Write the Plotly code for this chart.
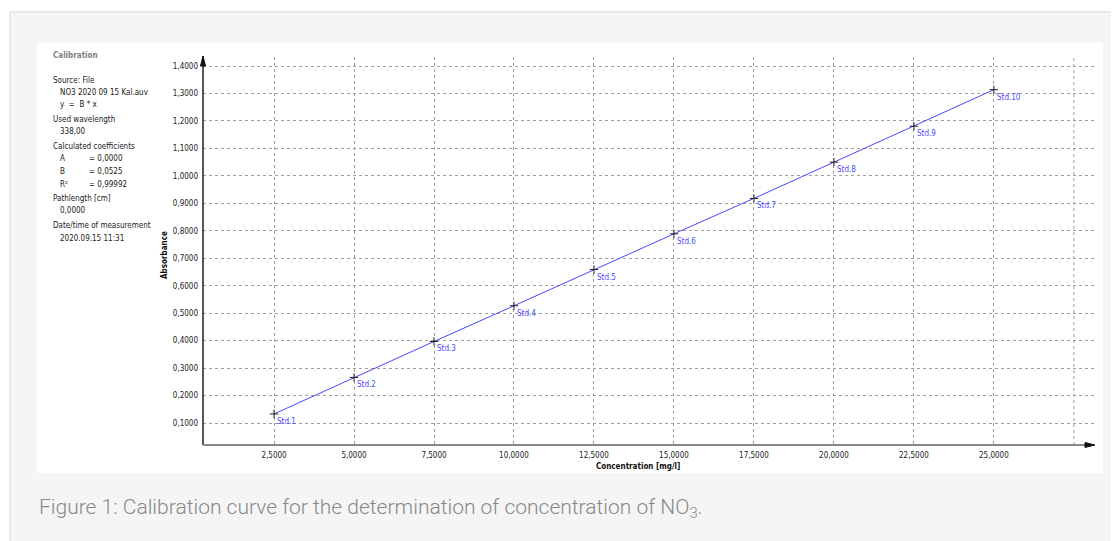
import plotly.graph_objects as go

conc = [2.5, 5.0, 7.5, 10.0, 12.5, 15.0, 17.5, 20.0, 22.5, 25.0]
absorb = [0.133, 0.266, 0.397, 0.527, 0.659, 0.789, 0.918, 1.050, 1.181, 1.314]
labels = ["Std.1", "Std.2", "Std.3", "Std.4", "Std.5", "Std.6", "Std.7", "Std.8", "Std.9", "Std.10"]
x_ticks = [2.5, 5.0, 7.5, 10.0, 12.5, 15.0, 17.5, 20.0, 22.5, 25.0]
x_ticktext = ["2,5000", "5,0000", "7,5000", "10,0000", "12,5000", "15,0000", "17,5000",
              "20,0000", "22,5000", "25,0000"]
x_extra_grid = [27.5]
y_ticks = [0.1, 0.2, 0.3, 0.4, 0.5, 0.6, 0.7, 0.8, 0.9, 1.0, 1.1, 1.2, 1.3, 1.4]
y_ticktext = [("%.4f" % v).replace(".", ",") for v in y_ticks]

info_lines = [
    ("Source: File", 0, 80),
    ("NO3 2020 09 15 Kal.auv", 1, 92),
    ("y  =  B * x", 1, 104),
    ("Used wavelength", 0, 119),
    ("338,00", 1, 131),
    ("Calculated coefficients", 0, 146),
    ("Pathlength [cm]", 0, 198),
    ("0,0000", 1, 210),
    ("Date/time of measurement", 0, 225),
    ("2020.09.15 11:31", 1, 238),
]
coef_names = ["A", "B", "R²"]
coef_vals = ["= 0,0000", "= 0,0525", "= 0,99992"]
coef_y = [158, 171, 184]

# page has an 8px body margin: the figure starts at (8, 8) in the window
OFF = 8
W, H = 1119 - OFF, 541 - OFF
L, R, T, B = 203 - OFF, 24, 57 - OFF, 96
PW, PH = W - L - R, H - T - B


def px(x):
    return (x - OFF - L) / PW


def py(y):
    return (H - B - (y - OFF)) / PH


FONT = "DejaVu Sans Condensed, DejaVu Sans"
BLUE = "#4848ff"

fig = go.Figure()
fig.add_trace(go.Scatter(
    x=conc, y=absorb, mode="lines+markers",
    line=dict(color=BLUE, width=1),
    marker=dict(symbol="cross-thin", size=6, line=dict(color="#222222", width=1)),
    showlegend=False, hoverinfo="skip"))

shapes = [
    dict(type="rect", xref="paper", yref="paper", x0=px(10), x1=px(1125), y0=py(545), y1=py(12),
         fillcolor="#f5f5f5", line=dict(width=0), layer="below"),
    dict(type="line", xref="paper", yref="paper", x0=px(10), x1=px(1125), y0=py(12), y1=py(12),
         line=dict(color="#e8e8e8", width=2), layer="below"),
    dict(type="line", xref="paper", yref="paper", x0=px(10), x1=px(10), y0=py(12), y1=py(545),
         line=dict(color="#e8e8e8", width=2), layer="below"),
    dict(type="rect", xref="paper", yref="paper", x0=px(37), x1=px(1103), y0=py(473), y1=py(43),
         fillcolor="#ffffff", line=dict(width=0), layer="below"),
    # axes lines
    dict(type="line", xref="paper", yref="paper", x0=px(203), x1=px(203), y0=py(445), y1=py(56),
         line=dict(color="#555555", width=2)),
    dict(type="line", xref="paper", yref="paper", x0=px(203), x1=px(1090), y0=py(445), y1=py(445),
         line=dict(color="#888888", width=2)),
    # arrows
    dict(type="path", xref="paper", yref="paper",
         path="M %f %f L %f %f L %f %f Z" % (px(200.5), py(66), px(205.5), py(66), px(203), py(56)),
         fillcolor="#111111", line=dict(color="#111111", width=1)),
    dict(type="path", xref="paper", yref="paper",
         path="M %f %f L %f %f L %f %f Z" % (px(1085), py(442.5), px(1085), py(447.5), px(1095), py(445)),
         fillcolor="#111111", line=dict(color="#111111", width=1)),
]
for gx in x_extra_grid:
    shapes.append(dict(type="line", xref="x", yref="paper", x0=gx, x1=gx, y0=0, y1=1,
                       line=dict(color="#a0a0a0", width=1, dash="dot"), layer="below"))

ann = []
ifont = dict(family=FONT, size=8, color="#222222")
ann.append(dict(text="<b>Calibration</b>", x=px(51), y=py(55), xref="paper", yref="paper",
                xanchor="left", yanchor="middle", showarrow=False,
                font=dict(family=FONT, size=8, color="#808080")))
for txt, ind, yy in info_lines:
    ann.append(dict(text=txt, x=px(51 + 7 * ind), y=py(yy), xref="paper", yref="paper",
                    xanchor="left", yanchor="middle", showarrow=False, font=ifont))
for nm, vv, yy in zip(coef_names, coef_vals, coef_y):
    ann.append(dict(text=nm, x=px(58), y=py(yy), xref="paper", yref="paper",
                    xanchor="left", yanchor="middle", showarrow=False, font=ifont))
    ann.append(dict(text=vv, x=px(87), y=py(yy), xref="paper", yref="paper",
                    xanchor="left", yanchor="middle", showarrow=False, font=ifont))

for xv, yv, lb in zip(conc, absorb, labels):
    ann.append(dict(text=lb, x=xv, y=yv, xref="x", yref="y", showarrow=False,
                    xanchor="left", yanchor="top", xshift=1, yshift=-1,
                    font=dict(family=FONT, size=8, color=BLUE)))

ann.append(dict(text="<b>Absorbance</b>", x=px(164), y=py(255), xref="paper", yref="paper",
                textangle=-90, showarrow=False, xanchor="center", yanchor="middle",
                font=dict(family=FONT, size=8, color="#111111")))
ann.append(dict(text="<b>Concentration [mg/l]</b>", x=px(638), y=py(466), xref="paper", yref="paper",
                showarrow=False, xanchor="center", yanchor="middle",
                font=dict(family=FONT, size=8, color="#111111")))
ann.append(dict(text="Figure 1: Calibration curve for the determination of concentration of NO<sub>3</sub>.",
                x=px(37), y=py(508), xref="paper", yref="paper", showarrow=False,
                xanchor="left", yanchor="middle",
                font=dict(family="Roboto", size=21, color="#888888", weight=300)))

fig.update_layout(
    width=W, height=H,
    margin=dict(l=L, r=R, t=T, b=B),
    paper_bgcolor="#ffffff", plot_bgcolor="rgba(0,0,0,0)",
    shapes=shapes, annotations=ann,
    xaxis=dict(range=[0.28, 28.16], tickvals=x_ticks, ticktext=x_ticktext,
               showgrid=True, gridcolor="#a0a0a0", griddash="dot", gridwidth=1,
               zeroline=False, showline=False, ticks="", ticklabelstandoff=4,
               tickfont=dict(family=FONT, size=8, color="#222222")),
    yaxis=dict(range=[0.02, 1.433], tickvals=y_ticks, ticktext=y_ticktext,
               showgrid=True, gridcolor="#a0a0a0", griddash="dot", gridwidth=1,
               zeroline=False, showline=False, ticks="", ticklabelstandoff=4,
               tickfont=dict(family=FONT, size=8, color="#222222")),
)

fig.write_html("out.html")
